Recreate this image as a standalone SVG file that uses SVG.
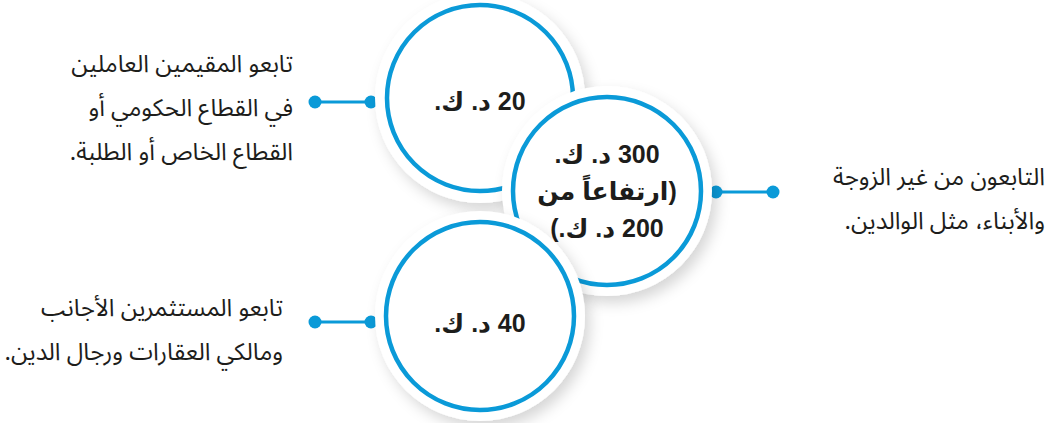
<svg xmlns="http://www.w3.org/2000/svg" width="1054" height="423" viewBox="0 0 1054 423">
  <defs>
    <filter id="soft-shadow" x="-30%" y="-30%" width="160%" height="160%">
      <feDropShadow dx="5" dy="7" stdDeviation="7" flood-color="#000" flood-opacity="0.16"/>
    </filter>
    <style>
      .disk { fill: #ffffff; filter: url(#soft-shadow); }
      .ring { fill: none; stroke: #0a9ad8; stroke-width: 4.5; }
      .value { font-family: "Liberation Sans", "DejaVu Sans", sans-serif; font-weight: bold; font-size: 25px; fill: #1d1d1b; direction: rtl; text-anchor: middle; }
      .label { font-family: "Noto Sans Arabic", "DejaVu Sans", sans-serif; font-size: 24px; fill: #1d1d1b; direction: rtl; text-anchor: start; }
      .link { stroke: #0a9ad8; stroke-width: 3; fill: none; }
      .dot { fill: #0a9ad8; }
    </style>
  </defs>
  <rect width="1054" height="423" fill="#ffffff"/>

  <!-- connectors: a short bar with a dot at each end -->
  <g id="connectors">
    <line class="link" x1="315" y1="102" x2="371" y2="102"/>
    <circle class="dot" cx="315" cy="102" r="6.5"/>
    <circle class="dot" cx="371" cy="102" r="6.5"/>

    <line class="link" x1="716" y1="192" x2="773" y2="192"/>
    <circle class="dot" cx="716" cy="192" r="6.5"/>
    <circle class="dot" cx="773" cy="192" r="6.5"/>

    <line class="link" x1="315" y1="322" x2="371" y2="322"/>
    <circle class="dot" cx="315" cy="322" r="6.5"/>
    <circle class="dot" cx="371" cy="322" r="6.5"/>
  </g>

  <!-- fee circles, each drawn over the previous one -->
  <g id="fee-20">
    <circle class="disk" cx="480" cy="98" r="105"/>
    <circle class="ring" cx="480" cy="98" r="93"/>
    <text class="value" x="480" y="110">20 د. ك.</text>
  </g>

  <g id="fee-300">
    <circle class="disk" cx="607" cy="191" r="105"/>
    <circle class="ring" cx="607" cy="191" r="94"/>
    <text class="value" x="607" y="163">300 د. ك.</text>
    <text class="value" x="607" y="200">(ارتفاعاً من</text>
    <text class="value" x="607" y="237">200 د. ك.)</text>
  </g>

  <g id="fee-40">
    <circle class="disk" cx="480" cy="316" r="105"/>
    <circle class="ring" cx="480" cy="316" r="94"/>
    <text class="value" x="480" y="332">40 د. ك.</text>
  </g>

  <!-- descriptions -->
  <g id="label-20">
    <text class="label" x="293" y="72">تابعو المقيمين العاملين</text>
    <text class="label" x="293" y="116">في القطاع الحكومي أو</text>
    <text class="label" x="293" y="160">القطاع الخاص أو الطلبة.</text>
  </g>

  <g id="label-300">
    <text class="label" x="1045" y="185">التابعون من غير الزوجة</text>
    <text class="label" x="1045" y="229">والأبناء، مثل الوالدين.</text>
  </g>

  <g id="label-40">
    <text class="label" x="283" y="316">تابعو المستثمرين الأجانب</text>
    <text class="label" x="283" y="360">ومالكي العقارات ورجال الدين.</text>
  </g>
</svg>
